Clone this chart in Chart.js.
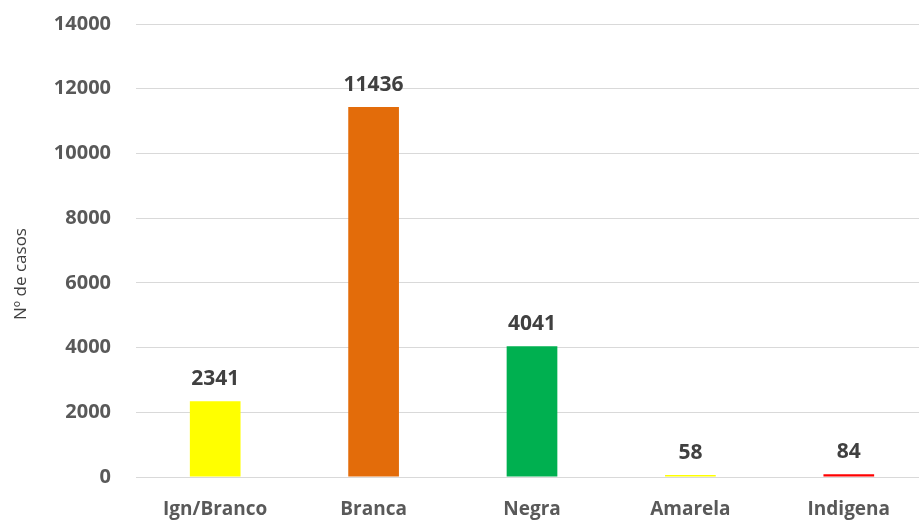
<!DOCTYPE html>
<html>
<head>
<meta charset="utf-8">
<script src="https://cdn.jsdelivr.net/npm/chart.js@4.4.0/dist/chart.umd.min.js"></script>
<style>
  html, body { margin: 0; padding: 0; background: #ffffff; overflow: hidden; }
  #wrap { position: relative; width: 928px; height: 521px; overflow: hidden; }
  #chart { position: absolute; left: 0; top: -13px; }
</style>
</head>
<body>
<div id="wrap"><canvas id="chart" width="928" height="534"></canvas></div>
<script>
// Cases by race/colour
const categories = ["Ign/Branco", "Branca", "Negra", "Amarela", "Indigena"];
const cases = [2341, 11436, 4041, 58, 84];
const barColors = ["#FFFF00", "#E36C0A", "#00B050", "#FFFF00", "#FF0000"];
const yTicks = [0, 2000, 4000, 6000, 8000, 10000, 12000, 14000];
const yTitle = "Nº de casos";

const FONT = "'Open Sans', 'Noto Sans', sans-serif";

// Writes each bar's value just above it
const valueLabels = {
  id: "valueLabels",
  afterDatasetsDraw(chart) {
    const ctx = chart.ctx;
    const meta = chart.getDatasetMeta(0);
    ctx.save();
    ctx.font = "bold 21px " + FONT;
    ctx.fillStyle = "#404040";
    ctx.textAlign = "center";
    ctx.textBaseline = "alphabetic";
    meta.data.forEach((bar, i) => {
      ctx.fillText(String(cases[i]), bar.x, bar.y - 16);
    });
    ctx.restore();
  }
};

// Rotated title of the value axis, sitting left of the tick labels
const axisTitle = {
  id: "axisTitle",
  afterDraw(chart) {
    const ctx = chart.ctx;
    ctx.save();
    ctx.translate(21, 287);
    ctx.rotate(-Math.PI / 2);
    ctx.font = "17px " + FONT;
    ctx.fillStyle = "#404040";
    ctx.textAlign = "center";
    ctx.textBaseline = "middle";
    ctx.fillText(yTitle, 0, 0);
    ctx.restore();
  }
};

new Chart(document.getElementById("chart"), {
  type: "bar",
  data: {
    labels: categories,
    datasets: [{
      data: cases,
      backgroundColor: barColors,
      borderWidth: 0,
      categoryPercentage: 0.64,
      barPercentage: 0.5
    }]
  },
  options: {
    responsive: false,
    animation: false,
    devicePixelRatio: 1,
    layout: { padding: { top: 0, left: 10, right: 0, bottom: 0 } },
    plugins: {
      legend: { display: false },
      tooltip: { enabled: false }
    },
    scales: {
      x: {
        grid: { display: false, drawTicks: false },
        border: { display: true, color: "#d9d9d9", width: 1 },
        ticks: {
          color: "#595959",
          font: { family: FONT, size: 19, weight: "bold" },
          padding: 21
        },
        afterFit(scale) { scale.height = 44; }
      },
      y: {
        min: 0,
        max: 14000,
        afterBuildTicks(scale) { scale.ticks = yTicks.map(v => ({ value: v })); },
        grid: { color: "#d9d9d9", lineWidth: 1, drawTicks: false },
        border: { display: false },
        ticks: {
          color: "#595959",
          font: { family: FONT, size: 20, weight: "bold" },
          padding: 25,
          callback: v => String(v)
        },
        afterFit(scale) { scale.width = 126; }
      }
    }
  },
  plugins: [valueLabels, axisTitle]
});
</script>
</body>
</html>
